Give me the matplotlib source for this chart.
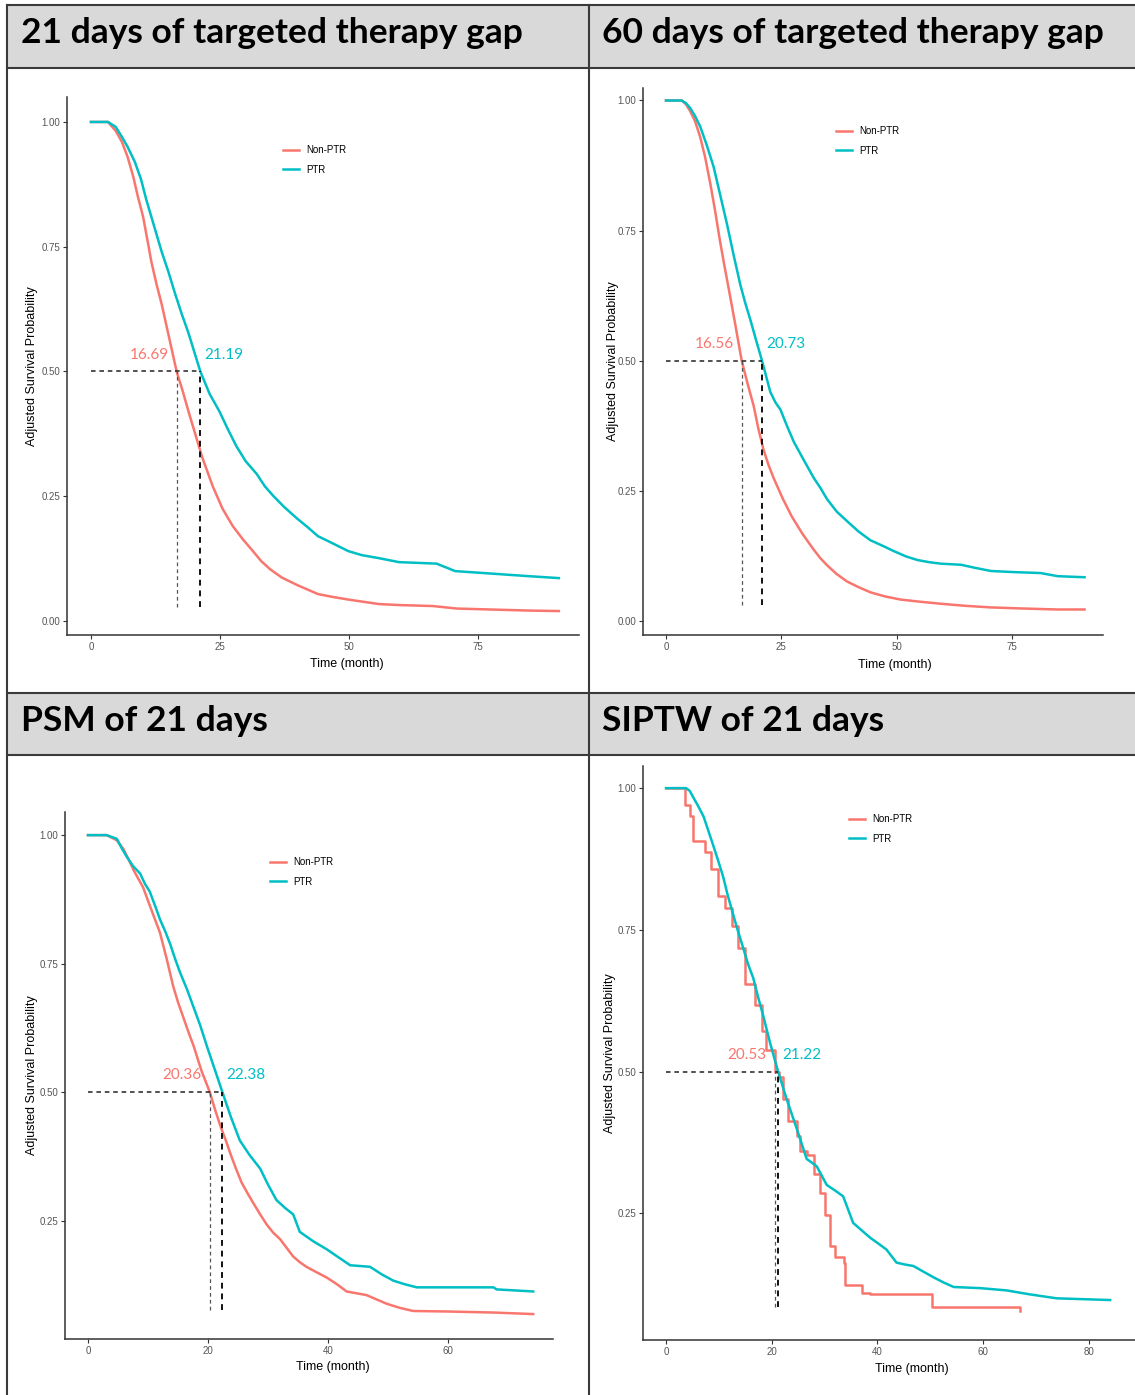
import matplotlib
matplotlib.use("Agg")
import matplotlib.pyplot as plt
from matplotlib.lines import Line2D
from matplotlib.patches import Rectangle

# ----- data -----
titles = ["21 days of targeted therapy gap", "60 days of targeted therapy gap",
          "PSM of 21 days", "SIPTW of 21 days"]
groups = ["Non-PTR", "PTR"]

# 21 days gap
tl_red_t = [0, 3.3, 4.8, 6.0, 7.1, 8.2, 9.1, 10.1, 11.0, 11.7, 12.7, 13.7, 15.1, 16.6, 17.8, 18.9, 20.2,
            21.6, 23.6, 25.5, 27.5, 29.5, 31.4, 33.0, 34.7, 37.0, 40, 44, 47, 49.9, 55.8, 59.7, 66.3,
            70.9, 84.7, 90.7]
tl_red_s = [1.0, 1.0, 0.982, 0.96, 0.93, 0.89, 0.85, 0.81, 0.76, 0.72, 0.675, 0.635, 0.57, 0.50, 0.46, 0.42, 0.375,
            0.327, 0.27, 0.225, 0.19, 0.163, 0.14, 0.12, 0.104, 0.087, 0.072, 0.054, 0.048, 0.043, 0.034, 0.032, 0.030,
            0.025, 0.021, 0.02]
tl_teal_t = [0, 3.3, 4.8, 6.0, 7.1, 8.5, 9.7, 10.7, 11.7, 12.7, 13.7, 15.0, 16.3, 17.6, 18.9, 20.0, 21.2,
             23.0, 24.9, 26.5, 28.2, 30.0, 32.1, 33.7, 35.4, 37.5, 40, 42, 44, 46, 49.9, 52.5, 55.8, 59.7,
             67, 70.6, 74.9, 84.7, 90.7]
tl_teal_s = [1.0, 1.0, 0.99, 0.97, 0.95, 0.92, 0.885, 0.845, 0.81, 0.775, 0.74, 0.70, 0.656, 0.615, 0.577, 0.54, 0.50,
             0.455, 0.42, 0.385, 0.35, 0.32, 0.295, 0.27, 0.25, 0.228, 0.205, 0.188, 0.17, 0.16, 0.14, 0.132, 0.126,
             0.118, 0.115, 0.10, 0.097, 0.09, 0.086]
tl_medians = [16.69, 21.19]

# 60 days gap
tr_red_t = [0, 3.4, 4.3, 5.2, 6.3, 7.4, 8.5, 9.6, 10.6, 11.6, 12.6, 13.7, 15.0, 16.4, 17.7, 19, 20, 21.1,
            22.2, 23.3, 25.3, 27.3, 29.6, 32, 33.5, 34.9, 37, 39.2, 41.7, 44.3, 47.5, 50.9, 55, 59.6, 65,
            70.4, 77, 84.9, 90.7]
tr_red_s = [1.0, 1.0, 0.993, 0.98, 0.96, 0.93, 0.89, 0.84, 0.79, 0.735, 0.685, 0.633, 0.57, 0.50, 0.455, 0.413, 0.37,
            0.33, 0.30, 0.275, 0.235, 0.2, 0.167, 0.137, 0.12, 0.107, 0.09, 0.076, 0.065, 0.055, 0.047, 0.041, 0.037,
            0.033, 0.029, 0.026, 0.024, 0.022, 0.022]
tr_teal_t = [0, 3.4, 4.3, 5.2, 6.3, 7.4, 8.8, 10.3, 11.7, 13.2, 14.6, 16.1, 17.2, 18.3, 19.5, 20.8, 21.7,
             22.6, 23.7, 24.8, 26.2, 27.7, 29.8, 32, 33.5, 34.9, 37, 39.2, 41.7, 44.3, 46.8, 49.4, 52, 54.5,
             57, 59.6, 63.9, 67, 70.4, 75, 81.2, 84.9, 90.7]
tr_teal_s = [1.0, 1.0, 0.995, 0.986, 0.97, 0.95, 0.915, 0.873, 0.82, 0.763, 0.705, 0.646, 0.61, 0.578, 0.54, 0.50,
             0.47, 0.44, 0.42, 0.406, 0.375, 0.344, 0.31, 0.275, 0.255, 0.234, 0.21, 0.192, 0.172, 0.155, 0.145, 0.134,
             0.124, 0.117, 0.113, 0.11, 0.108, 0.102, 0.096, 0.094, 0.092, 0.086, 0.084]
tr_medians = [16.56, 20.73]

# PSM of 21 days
bl_red_t = [0, 3.1, 4.8, 5.9, 6.8, 7.6, 8.4, 9.2, 10.3, 11.2, 12, 13.1, 14.2, 15, 15.9, 16.8, 17.6, 18.9,
            20.3, 21.2, 22.1, 23, 23.8, 24.7, 25.6, 26.6, 27.6, 28.7, 29.8, 30.9, 32, 33.1, 34.2, 35.3, 36.4,
            38, 39.8, 41.5, 43.1, 44.5, 46.4, 48, 49.8, 52, 54.2, 60, 67.6, 74.2]
bl_red_s = [1.0, 1.0, 0.99, 0.973, 0.952, 0.932, 0.915, 0.898, 0.863, 0.835, 0.81, 0.76, 0.706, 0.675, 0.645, 0.615,
            0.59, 0.542, 0.50, 0.465, 0.433, 0.405, 0.378, 0.35, 0.324, 0.303, 0.283, 0.262, 0.242, 0.226, 0.214,
            0.197, 0.18, 0.169, 0.16, 0.15, 0.139, 0.126, 0.112, 0.109, 0.105, 0.097, 0.088, 0.08, 0.074, 0.073,
            0.071, 0.068]
bl_teal_t = [0, 3.1, 4.8, 5.6, 6.4, 7.5, 8.7, 9.5, 10.3, 11.2, 12, 12.9, 13.7, 14.5, 15.3, 16.5, 17.6, 18.7,
             19.8, 21.1, 22.4, 23.8, 25.3, 26.9, 28.7, 30, 31.4, 32.8, 34.2, 35.3, 37.5, 39.8, 41.8, 43.7, 47,
             49, 50.9, 52.8, 54.8, 67.6, 68.1, 74.2]
bl_teal_s = [1.0, 1.0, 0.993, 0.975, 0.959, 0.94, 0.925, 0.905, 0.89, 0.862, 0.836, 0.812, 0.788, 0.76, 0.734, 0.70,
             0.665, 0.63, 0.59, 0.545, 0.50, 0.452, 0.406, 0.378, 0.351, 0.32, 0.29, 0.275, 0.262, 0.228, 0.21, 0.194,
             0.178, 0.163, 0.16, 0.145, 0.133, 0.126, 0.12, 0.12, 0.116, 0.112]
bl_medians = [20.36, 22.38]

# SIPTW of 21 days (non-PTR is a coarse step curve)
br_red_t = [0, 3.5, 4.5, 5.2, 7.4, 8.6, 9.9, 11.2, 12.4, 13.7, 14.9, 16.8, 18.1, 19.0, 20.53, 21.4, 22.2,
            23.1, 24.7, 25.3, 26.6, 27.9, 29.1, 30.1, 31.0, 32.0, 33.6, 33.9, 37.0, 38.6, 50.4, 67.0]
br_red_s = [1.0, 0.97, 0.95, 0.907, 0.887, 0.857, 0.81, 0.788, 0.757, 0.718, 0.655, 0.618, 0.572, 0.538, 0.50, 0.49, 0.452,
            0.412, 0.386, 0.36, 0.353, 0.32, 0.286, 0.247, 0.193, 0.173, 0.163, 0.124, 0.11, 0.107, 0.084, 0.077]
br_teal_t = [0, 3.8, 4.5, 5.2, 6.1, 7.1, 8, 9, 9.9, 10.8, 11.7, 12.7, 13.6, 14.6, 15.5, 16.5, 17.4, 18.4,
             19.7, 21.2, 22.8, 24.7, 26.6, 28.5, 30.4, 32, 33.5, 35.4, 37, 38.6, 40.1, 41.7, 43.6, 45, 46.8,
             48.7, 50.6, 52.5, 54.4, 59.4, 64.4, 68.8, 73.9, 84]
br_teal_s = [1.0, 1.0, 0.995, 0.983, 0.968, 0.95, 0.925, 0.897, 0.871, 0.844, 0.81, 0.777, 0.748, 0.718, 0.69, 0.665,
             0.632, 0.598, 0.55, 0.50, 0.452, 0.40, 0.346, 0.333, 0.30, 0.29, 0.28, 0.233, 0.22, 0.207, 0.197, 0.186,
             0.163, 0.16, 0.157, 0.147, 0.137, 0.128, 0.12, 0.118, 0.114, 0.107, 0.10, 0.097]
br_medians = [20.53, 21.22]

RED = "#F8766D"
TEAL = "#00BFC4"
W, H = 1135, 1395


def fx(x):
    return x / W


def fy(y):
    return 1 - y / H


fig = plt.figure(figsize=(W / 100, H / 100), dpi=100)
fig.patch.set_facecolor("white")

# ----- table frame and header bands -----
for top, bot in [(5, 68), (693, 755)]:
    fig.add_artist(Rectangle((fx(7), fy(bot)), 1 - fx(7), (bot - top) / H,
                             transform=fig.transFigure, facecolor="#d9d9d9", edgecolor="none"))
for y in [5, 68, 693, 755]:
    fig.add_artist(Line2D([fx(7), 1], [fy(y), fy(y)], transform=fig.transFigure, color="#3a3a3a", lw=1.5))
for x in [7, 589]:
    fig.add_artist(Line2D([fx(x), fx(x)], [fy(5), 0], transform=fig.transFigure, color="#3a3a3a", lw=1.5))

title_pos = [(21, 33), (602, 33), (21, 721), (602, 721)]
for t, (x, y) in zip(titles, title_pos):
    fig.text(fx(x), fy(y), t, fontsize=25.5, fontweight="bold", family=["Lato", "DejaVu Sans"],
             ha="left", va="center", color="black")

# ----- panels -----
panels = [
    dict(box=(67, 97, 579, 635), xlim=(-4.65, 94.6), ylim=(-0.028, 1.05), xt=[0, 25, 50, 75],
         yt=[0, 0.25, 0.5, 0.75, 1.0], red=(tl_red_t, tl_red_s), teal=(tl_teal_t, tl_teal_s),
         med=tl_medians, leg=(283, 145), ylab=32, xlab=(347, 664), steps=False),
    dict(box=(643, 88, 1103, 635), xlim=(-4.99, 94.7), ylim=(-0.027, 1.024), xt=[0, 25, 50, 75],
         yt=[0, 0.25, 0.5, 0.75, 1.0], red=(tr_red_t, tr_red_s), teal=(tr_teal_t, tr_teal_s),
         med=tr_medians, leg=(836, 126), ylab=613, xlab=(895, 665), steps=False),
    dict(box=(65, 812, 553, 1339), xlim=(-3.83, 77.5), ylim=(0.0195, 1.045), xt=[0, 20, 40, 60],
         yt=[0.25, 0.5, 0.75, 1.0], red=(bl_red_t, bl_red_s), teal=(bl_teal_t, bl_teal_s),
         med=bl_medians, leg=(270, 857), ylab=32, xlab=(333, 1367), steps=False),
    dict(box=(643, 766, 1135, 1340), xlim=(-4.35, 88.7), ylim=(0.0265, 1.039), xt=[0, 20, 40, 60, 80],
         yt=[0.25, 0.5, 0.75, 1.0], red=(br_red_t, br_red_s), teal=(br_teal_t, br_teal_s),
         med=br_medians, leg=(849, 814), ylab=610, xlab=(912, 1369), steps=True),
]

sans = ["Liberation Sans", "DejaVu Sans"]
for p in panels:
    l, t, r, b = p["box"]
    ax = fig.add_axes([fx(l), fy(b), (r - l) / W, (b - t) / H])
    ax.set_facecolor("none")
    ax.set_xlim(*p["xlim"])
    ax.set_ylim(*p["ylim"])
    for s in ["top", "right"]:
        ax.spines[s].set_visible(False)
    for s in ["left", "bottom"]:
        ax.spines[s].set_color("#333333")
        ax.spines[s].set_linewidth(1.1)
    ax.set_xticks(p["xt"])
    ax.set_yticks(p["yt"])
    ax.set_yticklabels(["%.2f" % v for v in p["yt"]])
    ax.tick_params(length=3, width=0.8, color="#333333", labelcolor="#555555", labelsize=7, pad=2)
    for lab in ax.get_xticklabels() + ax.get_yticklabels():
        lab.set_family(sans)

    ds = "steps-post" if p["steps"] else "default"
    ax.plot(*p["red"], color=RED, lw=1.8, drawstyle=ds)
    ax.plot(*p["teal"], color=TEAL, lw=1.8)

    # median survival guide lines
    low = min(min(p["red"][1]), min(p["teal"][1]))
    m_red, m_teal = p["med"]
    ax.plot([0, max(p["med"])], [0.5, 0.5], color="#222222", lw=1.1, ls=(0, (3, 2.5)))
    ax.plot([m_red, m_red], [low + 0.008, 0.5], color="#555555", lw=0.9, ls=(0, (3, 2.5)))
    ax.plot([m_teal, m_teal], [low + 0.008, 0.5], color="#111111", lw=1.4, ls=(0, (3, 2.5)))
    ax.annotate("%.2f" % m_red, (m_red, 0.5), xytext=(-6, 7), textcoords="offset points",
                ha="right", va="bottom", color=RED, fontsize=11, family=["Lato", "DejaVu Sans"])
    ax.annotate("%.2f" % m_teal, (m_teal, 0.5), xytext=(3, 7), textcoords="offset points",
                ha="left", va="bottom", color=TEAL, fontsize=11, family=["Lato", "DejaVu Sans"])

    # legend
    handles = [Line2D([], [], color=RED, lw=1.8), Line2D([], [], color=TEAL, lw=1.8)]
    lx, ly = p["leg"]
    ax.legend(handles, groups, loc="upper left", bbox_to_anchor=(fx(lx), fy(ly)),
              bbox_transform=fig.transFigure, frameon=False, handlelength=1.6,
              handletextpad=0.8, labelspacing=1.0, borderaxespad=0, borderpad=0,
              prop={"family": sans, "size": 7})

    fig.text(fx(p["ylab"]), fy((t + b) / 2), "Adjusted Survival Probability", rotation=90,
             ha="center", va="center", fontsize=9, family=sans, color="black")
    fig.text(fx(p["xlab"][0]), fy(p["xlab"][1]), "Time (month)",
             ha="center", va="center", fontsize=9, family=sans, color="black")

fig.savefig("out.png", dpi=100)
